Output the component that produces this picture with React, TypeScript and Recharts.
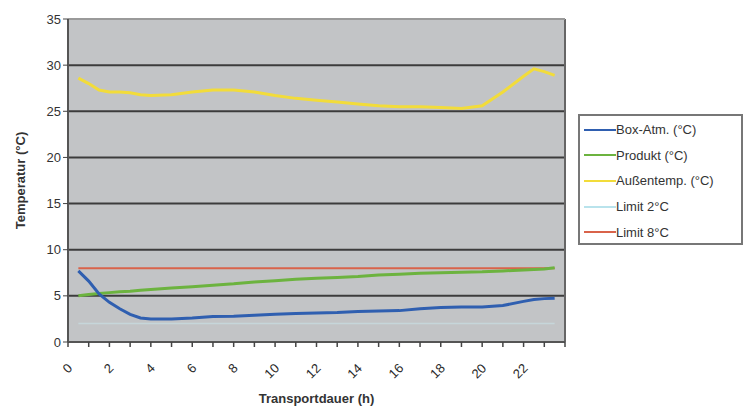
import { CartesianGrid, Line, LineChart, ReferenceLine, XAxis, YAxis } from "recharts";

const hours = [
  0.5, 1, 1.5, 2, 2.5, 3, 3.5, 4, 5, 6, 7, 8, 9, 10, 11, 12, 13, 14, 15, 16, 17,
  18, 19, 20, 21, 22, 22.5, 23, 23.5,
];
const boxAtm = [
  7.7, 6.6, 5.2, 4.3, 3.6, 3.0, 2.6, 2.5, 2.5, 2.6, 2.75, 2.8, 2.9, 3.0, 3.1,
  3.15, 3.2, 3.3, 3.35, 3.4, 3.6, 3.75, 3.8, 3.8, 3.95, 4.4, 4.6, 4.7, 4.75,
];
const produkt = [
  5.0, 5.15, 5.25, 5.35, 5.45, 5.5, 5.6, 5.7, 5.85, 6.0, 6.15, 6.3, 6.5, 6.65,
  6.8, 6.9, 7.0, 7.1, 7.25, 7.35, 7.45, 7.5, 7.55, 7.6, 7.7, 7.8, 7.85, 7.9, 8.05,
];
const aussen = [
  28.6, 28.0, 27.3, 27.1, 27.1, 27.0, 26.8, 26.7, 26.8, 27.1, 27.3, 27.3, 27.1,
  26.7, 26.4, 26.2, 26.0, 25.8, 25.6, 25.5, 25.5, 25.4, 25.3, 25.6, 27.1, 28.8,
  29.6, 29.3, 28.9,
];
const limitLow = 2;
const limitHigh = 8;

const xTicks = Array.from({ length: 25 }, (_, i) => i);
const yTicks = [0, 5, 10, 15, 20, 25, 30, 35];

const data = hours.map((h, i) => ({
  h,
  box: boxAtm[i],
  produkt: produkt[i],
  aussen: aussen[i],
  limit2: limitLow,
  limit8: limitHigh,
}));

const legendItems = [
  { label: "Box-Atm. (°C)", color: "#2f5fb0" },
  { label: "Produkt (°C)", color: "#6cb33f" },
  { label: "Außentemp. (°C)", color: "#f2dc3a" },
  { label: "Limit 2°C", color: "#b9e3ec" },
  { label: "Limit 8°C", color: "#d9634a" },
];

const font = "Liberation Sans, Arial, sans-serif";

const XTick = ({ x, y, payload }: any) => {
  if (payload.value % 2 !== 0 || payload.value > 22) return null;
  return (
    <text
      x={x + 5}
      y={y + 20}
      textAnchor="end"
      transform={`rotate(-45, ${x + 5}, ${y + 20})`}
      fontSize={13}
      fill="#2a2a2a"
      fontFamily={font}
    >
      {payload.value}
    </text>
  );
};

const ChartLegend = () => (
  <div
    style={{
      position: "absolute",
      left: 578,
      top: 114,
      width: 165,
      height: 131,
      border: "2px solid #777",
      background: "#fff",
      boxSizing: "border-box",
      padding: "1px 0 0 4px",
      fontFamily: font,
      fontSize: 13,
      color: "#333",
    }}
  >
    {legendItems.map((item) => (
      <div
        key={item.label}
        style={{ display: "flex", alignItems: "center", height: 25.6 }}
      >
        <span
          style={{
            width: 32,
            height: 2,
            background: item.color,
            display: "inline-block",
          }}
        />
        <span style={{ whiteSpace: "nowrap" }}>{item.label}</span>
      </div>
    ))}
  </div>
);

export default function App() {
  return (
    <div
      style={{
        position: "absolute",
        left: 0,
        top: 0,
        width: 745,
        height: 413,
        background: "#fff",
      }}
    >
      <LineChart
        width={745}
        height={413}
        data={data}
        margin={{ top: 19, right: 180, left: 8, bottom: 0 }}
      >
        <CartesianGrid
          vertical={false}
          horizontal
          fill="#c2c4c6"
          stroke="#3c3c3c"
          strokeWidth={2}
        />
        <XAxis
          dataKey="h"
          type="number"
          domain={[0, 24]}
          ticks={xTicks}
          interval={0}
          height={71}
          tick={<XTick />}
          tickLine={{ stroke: "#444", strokeWidth: 1.5 }}
          tickSize={5}
          axisLine={{ stroke: "#555", strokeWidth: 2 }}
          label={{
            value: "Transportdauer (h)",
            position: "insideBottom",
            offset: 10,
            style: {
              fontSize: 13,
              fontWeight: "bold",
              fill: "#333",
              fontFamily: font,
            },
          }}
        />
        <YAxis
          domain={[0, 35]}
          ticks={yTicks}
          width={60}
          tick={{ fontSize: 13, fill: "#333", fontFamily: font }}
          tickLine={{ stroke: "#444" }}
          tickSize={5}
          axisLine={{ stroke: "#555", strokeWidth: 2 }}
          label={{
            value: "Temperatur (°C)",
            angle: -90,
            position: "insideLeft",
            offset: 12,
            style: {
              fontSize: 13,
              fontWeight: "bold",
              fill: "#333",
              fontFamily: font,
              textAnchor: "middle",
            },
          }}
        />
        <ReferenceLine x={24} stroke="#666" strokeWidth={2} />
        <ReferenceLine y={35} stroke="#9a9a9a" strokeWidth={2} />
        <Line
          dataKey="limit2"
          name="Limit 2°C"
          stroke="#c6d6da"
          strokeWidth={1.5}
          dot={false}
          isAnimationActive={false}
        />
        <Line
          dataKey="limit8"
          name="Limit 8°C"
          stroke="#d9634a"
          strokeWidth={2}
          dot={false}
          isAnimationActive={false}
        />
        <Line
          dataKey="aussen"
          name="Außentemp. (°C)"
          stroke="#f2dc3a"
          strokeWidth={3}
          dot={false}
          type="linear"
          isAnimationActive={false}
        />
        <Line
          dataKey="produkt"
          name="Produkt (°C)"
          stroke="#6cb33f"
          strokeWidth={3}
          dot={false}
          type="linear"
          isAnimationActive={false}
        />
        <Line
          dataKey="box"
          name="Box-Atm. (°C)"
          stroke="#2f5fb0"
          strokeWidth={3}
          dot={false}
          type="linear"
          isAnimationActive={false}
        />
      </LineChart>
      <ChartLegend />
    </div>
  );
}
